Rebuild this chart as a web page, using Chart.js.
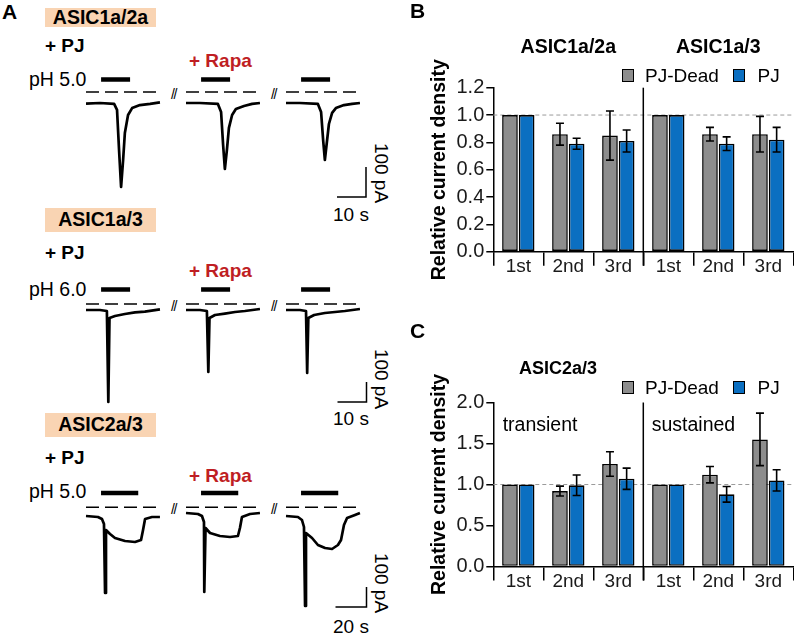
<!DOCTYPE html>
<html><head><meta charset="utf-8">
<script src="https://cdn.jsdelivr.net/npm/chart.js@4.4.1/dist/chart.umd.min.js"></script>
<style>
html,body{margin:0;padding:0;background:#fff;}
#fig{position:relative;width:794px;height:633px;overflow:hidden;font-family:"Liberation Sans",Arial,sans-serif;color:#000;background:#fff;}
canvas{position:absolute;}
.t{position:absolute;white-space:nowrap;line-height:1;}
.box{position:absolute;background:#f9d4b3;}
.lg{position:absolute;box-sizing:border-box;width:12px;height:13px;border:1.5px solid #000;}
</style></head><body><div id="fig"></div>
<script>
// ---------------- DATA ----------------
// Panel B: relative current density (mean, error)
const B_CATS = ['1st','2nd','3rd','1st','2nd','3rd'];
const B_GROUPS = ['ASIC1a/2a','ASIC1a/3'];
const B_DEAD = [1.00, 0.86, 0.85, 1.00, 0.86, 0.86];
const B_DEAD_ERR = [0, 0.08, 0.18, 0, 0.05, 0.13];
const B_PJ = [1.00, 0.79, 0.81, 1.00, 0.79, 0.82];
const B_PJ_ERR = [0, 0.04, 0.08, 0, 0.05, 0.09];
const B_YTICKS = {min:0, max:1.2, step:0.2};

// Panel C
const C_CATS = ['1st','2nd','3rd','1st','2nd','3rd'];
const C_GROUPS = ['transient','sustained'];
const C_DEAD = [1.00, 0.92, 1.25, 1.00, 1.12, 1.55];
const C_DEAD_ERR = [0, 0.06, 0.15, 0, 0.10, 0.32];
const C_PJ = [1.00, 0.99, 1.07, 1.00, 0.88, 1.05];
const C_PJ_ERR = [0, 0.125, 0.13, 0, 0.095, 0.13];
const C_YTICKS = {min:0, max:2.0, step:0.5};

const SERIES = ['PJ-Dead','PJ'];
const REF_LEVEL = 1.0;

// Panel A: current traces, time (s) from sweep start, current (pA) relative to baseline
const ASIC1a2a_t = [
  [0, 4.8, 9.7, 10.7, 11.4, 12.1, 12.8, 13.4, 14.5, 15.9, 18.6, 22.1, 25.5],
  [0, 4.8, 11.0, 12.1, 12.8, 13.4, 14.1, 14.8, 15.9, 17.2, 20.0, 22.8, 25.5],
  [0, 4.8, 11.0, 12.1, 12.8, 13.4, 14.1, 14.8, 15.9, 17.2, 20.0, 22.8, 25.5]];
const ASIC1a2a_pA = [
  [-2, 0, -3, -23, -157, -280, -190, -100, -40, -17, -7, -3, 2],
  [0, 0, -3, -30, -140, -220, -157, -83, -40, -20, -10, -3, 0],
  [0, 0, -3, -30, -123, -190, -130, -70, -33, -17, -7, -3, 0]];
const ASIC1a3_t = [
  [0, 4.8, 7.2, 7.7, 8.1, 10.0, 13.4, 16.9, 20.3, 25.5],
  [0, 4.8, 7.2, 7.7, 8.1, 10.0, 13.4, 16.9, 20.3, 25.5],
  [0, 4.8, 6.9, 7.3, 7.7, 9.7, 13.4, 16.9, 20.3, 25.5]];
const ASIC1a3_pA = [
  [0, 0, -5, -460, -40, -30, -20, -12, -8, 3],
  [0, 0, -5, -310, -40, -25, -18, -10, -5, 5],
  [0, 0, -5, -315, -40, -25, -15, -10, -5, 5]];
const ASIC2a3_t = [
  [0, 7.7, 10.3, 11.6, 12.3, 12.9, 15.5, 18.7, 25.2, 31.6, 35.5, 36.8, 38.1, 42.6, 47.7],
  [0, 7.7, 10.3, 11.6, 11.8, 12.6, 15.5, 21.9, 28.4, 33.5, 34.8, 36.1, 41.3, 47.7],
  [0, 7.7, 10.3, 11.6, 12.3, 12.9, 16.8, 20.6, 25.2, 29.7, 33.5, 35.5, 37.4, 39.4, 44.5, 47.7]];
const ASIC2a3_pA = [
  [5, 0, -10, -35, -380, -65, -85, -105, -120, -125, -115, -65, -10, 0, 0],
  [20, 15, 5, -25, -375, -55, -80, -95, -100, -95, -55, 0, 15, 20],
  [5, 0, -15, -50, -445, -80, -105, -140, -155, -160, -140, -115, -40, -5, 10, 20]];
// pH application (on, off) in s from sweep start
const ASIC1a2a_pH = [5.2, 15.2];
const ASIC1a3_pH = [5.2, 15.2];
const ASIC2a3_pH = [9.7, 33.7];
const PH_LABELS = ['pH 5.0','pH 6.0','pH 5.0'];
const ROW_NAMES = ['ASIC1a/2a','ASIC1a/3','ASIC2a/3'];
// scale bars
const SCALEBAR_pA = [100, 100, 100];
const SCALEBAR_s = [10, 10, 20];

// ---------------- LAYOUT / STYLE ----------------
const FONT = '"Liberation Sans", Arial, sans-serif';
const GRAY = '#8d8d8d', BLUE = '#0b6fc1', RED = '#bf1e23';
Chart.defaults.font.family = FONT;
const fig = document.getElementById('fig');

function T(txt, x, cy, size, o = {}) {
  const d = document.createElement('div');
  d.className = 't'; d.textContent = txt;
  d.style.fontSize = size + 'px';
  if (o.bold) d.style.fontWeight = 'bold';
  if (o.italic) d.style.fontStyle = 'italic';
  if (o.color) d.style.color = o.color;
  if (o.ls) d.style.letterSpacing = o.ls + 'px';
  if (o.rot) {
    d.style.left = x + 'px'; d.style.top = cy + 'px';
    d.style.transform = 'translate(-50%,-50%) rotate(90deg)';
  } else {
    d.style.top = (cy - 0.49 * size) + 'px';
    d.style.left = x + 'px';
    if (o.align === 'center') d.style.transform = 'translateX(-50%)';
  }
  fig.appendChild(d);
  return d;
}
function box(cls, x, y, w, h, bg) {
  const d = document.createElement('div');
  d.className = cls; d.style.left = x + 'px'; d.style.top = y + 'px';
  if (w) d.style.width = w + 'px';
  if (h) d.style.height = h + 'px';
  if (bg) d.style.background = bg;
  fig.appendChild(d);
}

// ---------- Panel A ----------
const SWEEP0_PX = 86, SWEEP_STEP_PX = 100;
const ROWS = [
  {top: 62, h: 160, base: 103, pxs: 2.9, pxa: 0.3, stim: 79.5, dash: 92, cx: 366, cy: 197,
   boxY: 8, boxH: 19, pj: 45, rapa: 60, ph: 80, sLab: 214.5, paLab: 173},
  {top: 280, h: 132, base: 310, pxs: 2.9, pxa: 0.2, stim: 289.5, dash: 304, cx: 366.5, cy: 402,
   boxY: 208, boxH: 24, pj: 252, rapa: 270, ph: 290, sLab: 418.5, paLab: 379},
  {top: 485, h: 148, base: 517, pxs: 1.55, pxa: 0.2, stim: 493, dash: 507.3, cx: 366.5, cy: 607,
   boxY: 413, boxH: 24, pj: 457, rapa: 475, ph: 492, sLab: 626, paLab: 583}
];
const TRACE_T = [ASIC1a2a_t, ASIC1a3_t, ASIC2a3_t];
const TRACE_I = [ASIC1a2a_pA, ASIC1a3_pA, ASIC2a3_pA];
const STIM = [ASIC1a2a_pH, ASIC1a3_pH, ASIC2a3_pH];

ROWS.forEach((R, r) => {
  box('box', 45, R.boxY, 111, R.boxH);
  T(ROW_NAMES[r], 100.5, R.boxY + R.boxH / 2, 19.5, {bold: true, align: 'center'});
  T('+ PJ', 45, R.pj, 19, {bold: true});
  T('+ Rapa', 189, R.rapa, 19, {bold: true, color: RED});
  T(PH_LABELS[r], 29, R.ph, 19.5);
  T('//', 173.5, R.dash + 1.5, 14, {align: 'center', ls: -1.5});
  T('//', 273.5, R.dash + 1.5, 14, {align: 'center', ls: -1.5});
  T('100 pA', 381, R.paLab, 19, {rot: true});
  T(SCALEBAR_s[r] + ' s', 351, R.sLab, 19, {align: 'center'});

  const cv = document.createElement('canvas');
  cv.width = 400; cv.height = R.h;
  cv.style.left = '0px'; cv.style.top = R.top + 'px';
  cv.style.width = '400px'; cv.style.height = R.h + 'px';
  fig.appendChild(cv);
  const X = px => (px - SWEEP0_PX) / R.pxs;
  const Y = py => -(py - R.base) / R.pxa;
  const off = k => k * SWEEP_STEP_PX / R.pxs;
  const ds = [];
  for (let k = 0; k < 3; k++) {
    const ts = TRACE_T[r][k], is = TRACE_I[r][k];
    ds.push({data: ts.map((t, i) => ({x: t + off(k), y: is[i]})), borderWidth: 2.7, borderJoinStyle: 'round'});
    ds.push({data: [{x: STIM[r][0] + off(k), y: Y(R.stim)}, {x: STIM[r][1] + off(k), y: Y(R.stim)}], borderWidth: 4.5});
    ds.push({data: [{x: off(k), y: Y(R.dash)}, {x: ts[ts.length - 1] + off(k), y: Y(R.dash)}], borderWidth: 1.5, borderDash: [13, 6]});
  }
  const cx = X(R.cx), cy = Y(R.cy);
  ds.push({data: [{x: cx, y: cy + SCALEBAR_pA[r]}, {x: cx, y: cy}, {x: cx - SCALEBAR_s[r], y: cy}], borderWidth: 1.5});
  new Chart(cv, {
    type: 'scatter',
    data: {datasets: ds.map(d => Object.assign({showLine: true, pointRadius: 0, borderColor: '#000',
      backgroundColor: '#000', fill: false, tension: 0, clip: false, borderCapStyle: 'butt'}, d))},
    options: {responsive: false, animation: false, devicePixelRatio: 1, events: [],
      layout: {padding: 0},
      plugins: {legend: {display: false}, tooltip: {enabled: false}},
      scales: {x: {type: 'linear', display: false, min: X(0), max: X(400)},
               y: {type: 'linear', display: false, min: Y(R.top + R.h), max: Y(R.top)}}}
  });
});
T('A', 2, 11.5, 21, {bold: true});

// ---------- Bar panels ----------
const refPlugin = {
  id: 'refAndErr',
  beforeDatasetsDraw(chart) {
    const {ctx, chartArea: a, scales: {x, y}} = chart;
    ctx.save();
    ctx.strokeStyle = '#9b9b9b'; ctx.lineWidth = 1; ctx.setLineDash([4, 3]);
    const yy = y.getPixelForValue(REF_LEVEL);
    ctx.beginPath(); ctx.moveTo(a.left, yy); ctx.lineTo(a.right, yy); ctx.stroke();
    ctx.setLineDash([]);
    const xx = x.getPixelForValue(2.5);
    ctx.strokeStyle = '#000'; ctx.lineWidth = 1.5;
    ctx.beginPath(); ctx.moveTo(xx, a.top); ctx.lineTo(xx, a.bottom + 14); ctx.stroke();
    ctx.restore();
  },
  afterDatasetsDraw(chart) {
    const {ctx, scales: {y}} = chart;
    ctx.save();
    ctx.strokeStyle = '#000'; ctx.lineWidth = 1.6;
    chart.data.datasets.forEach((d, i) => {
      const meta = chart.getDatasetMeta(i);
      d.err.forEach((e, j) => {
        if (!e) return;
        const xx = meta.data[j].x;
        const y1 = y.getPixelForValue(d.data[j] + e), y2 = y.getPixelForValue(d.data[j] - e);
        ctx.beginPath();
        ctx.moveTo(xx, y1); ctx.lineTo(xx, y2);
        ctx.moveTo(xx - 4, y1); ctx.lineTo(xx + 4, y1);
        ctx.moveTo(xx - 4, y2); ctx.lineTo(xx + 4, y2);
        ctx.stroke();
      });
    });
    ctx.restore();
  }
};

function barChart(top, h, padTop, xH, cats, dead, deadE, pj, pjE, yt) {
  const cv = document.createElement('canvas');
  cv.width = 394; cv.height = h;
  cv.style.left = '400px'; cv.style.top = top + 'px';
  cv.style.width = '394px'; cv.style.height = h + 'px';
  fig.appendChild(cv);
  new Chart(cv, {
    type: 'bar',
    data: {labels: cats, datasets: [
      {label: SERIES[0], data: dead, err: deadE, backgroundColor: GRAY, borderColor: '#000', borderWidth: 1.6, borderSkipped: false},
      {label: SERIES[1], data: pj, err: pjE, backgroundColor: BLUE, borderColor: '#000', borderWidth: 1.6, borderSkipped: false}]},
    options: {
      responsive: false, animation: false, devicePixelRatio: 1, events: [],
      layout: {padding: {left: 0, right: 0.7, top: padTop, bottom: 0}},
      datasets: {bar: {categoryPercentage: 0.667, barPercentage: 0.94}},
      plugins: {legend: {display: false}, tooltip: {enabled: false}},
      scales: {
        x: {grid: {offset: true, drawOnChartArea: false, tickLength: 14, color: '#000', lineWidth: 1.5},
            border: {display: true, color: '#000', width: 1.5},
            ticks: {color: '#1a1a1a', font: {family: FONT, size: 19}, padding: -10, maxRotation: 0, autoSkip: false},
            afterFit(s) { s.height = xH; }},
        y: {min: yt.min, max: yt.max,
            ticks: {stepSize: yt.step, callback: v => v.toFixed(1), color: '#1a1a1a', font: {family: FONT, size: 20}, padding: 2},
            grid: {drawOnChartArea: false, tickLength: 7, color: '#000', lineWidth: 1.5},
            border: {display: true, color: '#000', width: 1.5},
            title: {display: true, text: 'Relative current density', color: '#000',
                    font: {family: FONT, size: 19.5, weight: 'bold'}, padding: {top: 28.3, bottom: 0}},
            afterFit(s) { s.width = 93.3; }}
      }
    },
    plugins: [refPlugin]
  });
}

// Panel B
barChart(0, 300, 87.7, 48.3, B_CATS, B_DEAD, B_DEAD_ERR, B_PJ, B_PJ_ERR, B_YTICKS);
T('B', 410, 10.5, 21, {bold: true});
T(B_GROUPS[0], 568.3, 46.7, 19.5, {bold: true, align: 'center'});
T(B_GROUPS[1], 718.3, 46.7, 19.5, {bold: true, align: 'center'});
box('lg', 621.5, 68.5, 0, 0, GRAY);
T(SERIES[0], 645, 75.5, 19);
box('lg', 733, 68.5, 0, 0, BLUE);
T(SERIES[1], 757.5, 75.5, 19);

// Panel C
barChart(310, 323, 92.5, 66.5, C_CATS, C_DEAD, C_DEAD_ERR, C_PJ, C_PJ_ERR, C_YTICKS);
T('C', 410, 330.5, 21, {bold: true});
T('ASIC2a/3', 519, 368, 18, {bold: true});
box('lg', 621.5, 381, 0, 0, GRAY);
T(SERIES[0], 645, 387.5, 19);
box('lg', 733, 381, 0, 0, BLUE);
T(SERIES[1], 757.5, 387.5, 19);
T(C_GROUPS[0], 502.7, 425, 19.5);
T(C_GROUPS[1], 651.7, 425, 19.5);
</script></body></html>
